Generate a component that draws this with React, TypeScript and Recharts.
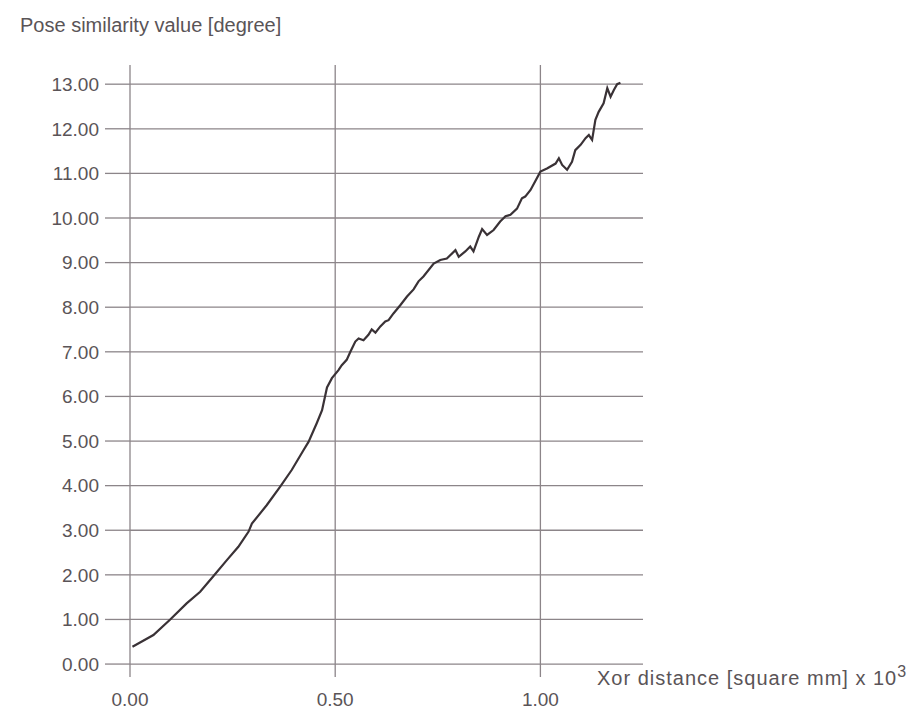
import { LineChart, Line, XAxis, YAxis, ReferenceLine } from 'recharts'

// Xor distance (x 10^3 square mm)
const xorDistance = [
  0.006, 0.057, 0.098, 0.138, 0.171, 0.203, 0.236, 0.264, 0.289, 0.297,
  0.333, 0.366, 0.394, 0.423, 0.435, 0.455, 0.468, 0.48, 0.492, 0.508,
  0.516, 0.528, 0.537, 0.549, 0.557, 0.569, 0.581, 0.589, 0.598, 0.61,
  0.622, 0.63, 0.642, 0.659, 0.675, 0.691, 0.703, 0.715, 0.74, 0.756,
  0.772, 0.793, 0.801, 0.817, 0.829, 0.837, 0.85, 0.858, 0.87, 0.886,
  0.902, 0.915, 0.927, 0.943, 0.955, 0.963, 0.976, 1.0, 1.016, 1.037,
  1.045, 1.053, 1.065, 1.077, 1.085, 1.098, 1.11, 1.118, 1.126, 1.134,
  1.142, 1.154, 1.163, 1.171, 1.179, 1.187, 1.195,
]

// Pose similarity value (degree)
const poseSimilarity = [
  0.39, 0.65, 1.0, 1.36, 1.62, 1.97, 2.33, 2.63, 2.97, 3.15,
  3.56, 3.98, 4.35, 4.8, 4.98, 5.4, 5.69, 6.2, 6.41, 6.59,
  6.7, 6.82, 7.0, 7.23, 7.3, 7.26, 7.38, 7.5, 7.43, 7.57,
  7.68, 7.71, 7.86, 8.05, 8.24, 8.4, 8.58, 8.69, 8.98, 9.06,
  9.09, 9.28, 9.13, 9.25, 9.36, 9.25, 9.58, 9.75, 9.62, 9.73,
  9.92, 10.04, 10.07, 10.21, 10.44, 10.48, 10.63, 11.04, 11.11, 11.22,
  11.34, 11.19, 11.08, 11.26, 11.52, 11.64, 11.79, 11.86, 11.75, 12.2,
  12.38, 12.57, 12.91, 12.72, 12.87, 13.0, 13.03,
]

const xTicks = [0, 0.5, 1.0]
const yTicks = [0, 1, 2, 3, 4, 5, 6, 7, 8, 9, 10, 11, 12, 13]

const yTitle = 'Pose similarity value [degree]'
const xTitle = 'Xor distance [square mm] x 10'

const data = xorDistance.map((x, i) => ({ x, y: poseSimilarity[i] }))

const gridColor = '#8c8589'
const textColor = '#5a5457'
const font = '"Liberation Sans", Arial, sans-serif'

function XTick({ x, y, payload }: any) {
  return (
    <text x={x} y={y + 22} textAnchor="middle" dominantBaseline="central" fontSize={19} fontFamily={font} fill={textColor}>
      {payload.value.toFixed(2)}
    </text>
  )
}

export default function App() {
  return (
    <div style={{ position: 'absolute', left: 0, top: 0, width: 922, height: 709, background: '#fff' }}>
      <LineChart width={922} height={709} data={data} margin={{ top: 65, right: 279, left: 0, bottom: 0 }}>
        <XAxis
          dataKey="x"
          type="number"
          domain={[0, 1.25]}
          ticks={xTicks}
          allowDataOverflow
          axisLine={false}
          tickLine={false}
          tickSize={0}
          tickMargin={0}
          height={32}
          tick={<XTick />}
        />
        <YAxis
          type="number"
          domain={[-0.29, 13.43]}
          ticks={yTicks}
          allowDataOverflow
          width={130}
          axisLine={false}
          tickLine={{ stroke: gridColor, strokeWidth: 1.3 }}
          tickSize={25}
          tickMargin={6}
          tickFormatter={(v: number) => v.toFixed(2)}
          tick={{ fontSize: 19, fill: textColor, fontFamily: font }}
        />
        {yTicks.map((t) => (
          <ReferenceLine key={`h${t}`} y={t} stroke={gridColor} strokeWidth={1.3} />
        ))}
        {xTicks.map((t) => (
          <ReferenceLine key={`v${t}`} x={t} stroke={gridColor} strokeWidth={1.3} />
        ))}
        <Line
          type="linear"
          dataKey="y"
          stroke="#3a3236"
          strokeWidth={2.2}
          dot={false}
          isAnimationActive={false}
        />
      </LineChart>
      <svg width={922} height={709} style={{ position: 'absolute', left: 0, top: 0, pointerEvents: 'none' }}>
        <text x={20} y={32} fontSize={20} fontFamily={font} fill={textColor}>
          {yTitle}
        </text>
        <text x={597} y={685} fontSize={20} fontFamily={font} fill={textColor} letterSpacing={1}>
          {xTitle}
          <tspan dy={-8} fontSize={16}>3</tspan>
        </text>
      </svg>
    </div>
  )
}
